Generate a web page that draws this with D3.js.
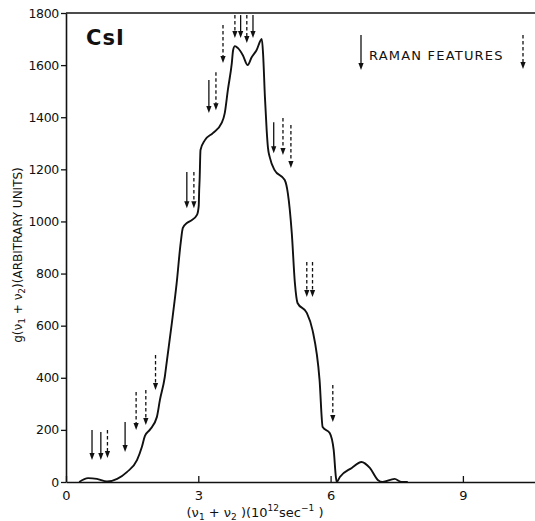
<!DOCTYPE html>
<html>
<head>
<meta charset="utf-8">
<script src="https://cdn.jsdelivr.net/npm/d3@7"></script>
<style>
  html, body { margin: 0; padding: 0; background: #fff; }
  svg { display: block; }
  text { font-family: "DejaVu Sans", "Liberation Sans", sans-serif; fill: #111; }
</style>
</head>
<body>
<svg id="chart" width="535" height="521"></svg>
<script>
// Two-phonon density g(v1 + v2) of CsI, frequency in 10^12 sec^-1
const freq = [0.30, 0.50, 0.70, 0.93, 1.16, 1.38, 1.61, 1.72, 1.79, 1.90, 2.06, 2.13, 2.24, 2.29,
  2.40, 2.51, 2.60, 2.65, 2.75, 2.85, 2.97, 3.01, 3.02, 3.03, 3.05, 3.15, 3.33, 3.53, 3.60, 3.67,
  3.76, 3.79, 3.83, 3.90, 4.01, 4.12, 4.21, 4.32, 4.44, 4.47, 4.51, 4.55, 4.58, 4.62, 4.73, 4.96,
  5.03, 5.12, 5.19, 5.25, 5.46, 5.59, 5.75, 5.82, 5.98, 6.07, 6.12, 6.14, 6.21, 6.48, 6.70, 6.89,
  7.07, 7.18, 7.45, 7.61, 7.75];
const density = [0, 15, 12, 2, 12, 38, 84, 134, 177, 200, 249, 315, 403, 468,
  610, 764, 917, 975, 995, 1005, 1025, 1060, 1120, 1160, 1274, 1312, 1339, 1378, 1416, 1504,
  1608, 1658, 1673, 1665, 1638, 1600, 1630, 1657, 1700, 1640, 1480, 1351, 1282, 1247, 1197, 1159,
  1109, 955, 764, 687, 649, 583, 391, 211, 188, 123, 19, 0, 19, 54, 77, 54,
  8, 0, 12, 0, 0];

// Raman feature markers: position, arrow top and tip (same units as the density), style
const ramanPos  = [0.59, 0.79, 0.94, 1.34, 1.59, 1.81, 2.03, 2.74, 2.90, 3.24, 3.40, 3.56,
  3.83, 3.96, 4.10, 4.24, 4.71, 4.92, 5.10, 5.46, 5.59, 6.05];
const ramanTop  = [200, 192, 200, 230, 345, 353, 487, 1190, 1190, 1543, 1573, 1754,
  1792, 1792, 1792, 1792, 1381, 1397, 1370, 844, 844, 372];
const ramanTip  = [84, 84, 92, 115, 200, 219, 353, 1051, 1051, 1416, 1427, 1608,
  1704, 1704, 1685, 1704, 1262, 1255, 1205, 710, 710, 230];
const ramanKind = ["solid", "solid", "dashed", "solid", "dashed", "dashed", "dashed", "solid", "dashed",
  "solid", "dashed", "dashed", "dashed", "solid", "dashed", "solid", "solid", "dashed", "dashed",
  "dashed", "dashed", "dashed"];

const xTicks = [0, 3, 6, 9];
const yTicks = [0, 200, 400, 600, 800, 1000, 1200, 1400, 1600, 1800];

const svg = d3.select("#chart");
const x = d3.scaleLinear().domain([0, 10.635]).range([66, 535]);
const y = d3.scaleLinear().domain([0, 1800]).range([482, 13]);

// frame: top edge
svg.append("line").attr("x1", x(0)).attr("x2", 535).attr("y1", y(1800)).attr("y2", y(1800))
  .attr("stroke", "#111").attr("stroke-width", 1.6);

// x axis with inward ticks
const xAxis = svg.append("g").attr("transform", `translate(0,${y(0)})`)
  .call(d3.axisBottom(x).tickValues(xTicks).tickFormat(d3.format("d"))
    .tickSizeInner(-6).tickSizeOuter(0).tickPadding(9));
xAxis.select(".domain").attr("stroke", "#111").attr("stroke-width", 1.6);
xAxis.selectAll(".tick line").attr("stroke", "#111").attr("stroke-width", 1.3);
xAxis.selectAll(".tick text").attr("font-size", 13).attr("font-family", "DejaVu Sans").attr("fill", "#111");

// y axis
const yAxis = svg.append("g").attr("transform", `translate(${x(0)},0)`)
  .call(d3.axisLeft(y).tickValues(yTicks).tickFormat(d3.format("d"))
    .tickSizeInner(5).tickSizeOuter(0).tickPadding(2));
yAxis.select(".domain").attr("stroke", "#111").attr("stroke-width", 1.6);
yAxis.selectAll(".tick line").attr("stroke", "#111").attr("stroke-width", 1.3);
yAxis.selectAll(".tick text").attr("font-size", 12.5).attr("font-family", "DejaVu Sans")
  .attr("fill", "#111").attr("letter-spacing", -0.3);

// density curve
const pts = freq.map((f, i) => [f, density[i]]);
svg.append("path")
  .datum(pts)
  .attr("fill", "none")
  .attr("stroke", "#111")
  .attr("stroke-width", 1.9)
  .attr("stroke-linejoin", "round")
  .attr("d", d3.line().x(d => x(d[0])).y(d => y(d[1])).curve(d3.curveMonotoneX));

// arrow helper: shaft plus filled head, tip at (px, tipY)
function arrow(g, px, topY, tipY, kind) {
  const head = 7;
  g.append("line")
    .attr("x1", px).attr("x2", px)
    .attr("y1", topY).attr("y2", tipY - head + 1)
    .attr("stroke", "#111").attr("stroke-width", 1.3)
    .attr("stroke-dasharray", kind === "dashed" ? "3.5,2.5" : null);
  g.append("path")
    .attr("d", `M${px - 2.6},${tipY - head} L${px + 2.6},${tipY - head} L${px},${tipY} Z`)
    .attr("fill", "#111");
}

const arrows = svg.append("g");
ramanPos.forEach((p, i) => arrow(arrows, x(p), y(ramanTop[i]), y(ramanTip[i]), ramanKind[i]));

// legend
const lg = svg.append("g");
arrow(lg, 361, 35, 70, "solid");
arrow(lg, 523, 35, 69, "dashed");
lg.append("text").attr("x", 369).attr("y", 60).attr("font-size", 13).attr("letter-spacing", 1.2)
  .text("RAMAN  FEATURES");

// sample label
svg.append("text").attr("x", 86).attr("y", 45).attr("font-size", 21).attr("font-weight", "bold")
  .attr("letter-spacing", 1).text("CsI");

// x axis title
const xt = svg.append("text").attr("x", 255).attr("y", 517).attr("text-anchor", "middle").attr("font-size", 13);
xt.append("tspan").text("(ν");
xt.append("tspan").attr("font-size", 9).attr("dy", 3).text("1");
xt.append("tspan").attr("dy", -3).text(" + ν");
xt.append("tspan").attr("font-size", 9).attr("dy", 3).text("2");
xt.append("tspan").attr("dy", -3).text(" )(10");
xt.append("tspan").attr("font-size", 9).attr("dy", -6).text("12");
xt.append("tspan").attr("dy", 6).text("sec");
xt.append("tspan").attr("font-size", 9).attr("dy", -6).text("−1");
xt.append("tspan").attr("dy", 6).text(" )");

// y axis title
const yt = svg.append("text").attr("transform", "translate(22,255) rotate(-90)")
  .attr("text-anchor", "middle").attr("font-size", 12);
yt.append("tspan").text("g(ν");
yt.append("tspan").attr("font-size", 9).attr("dy", 3).text("1");
yt.append("tspan").attr("dy", -3).text(" + ν");
yt.append("tspan").attr("font-size", 9).attr("dy", 3).text("2");
yt.append("tspan").attr("dy", -3).text(")(ARBITRARY UNITS)");
</script>
</body>
</html>
